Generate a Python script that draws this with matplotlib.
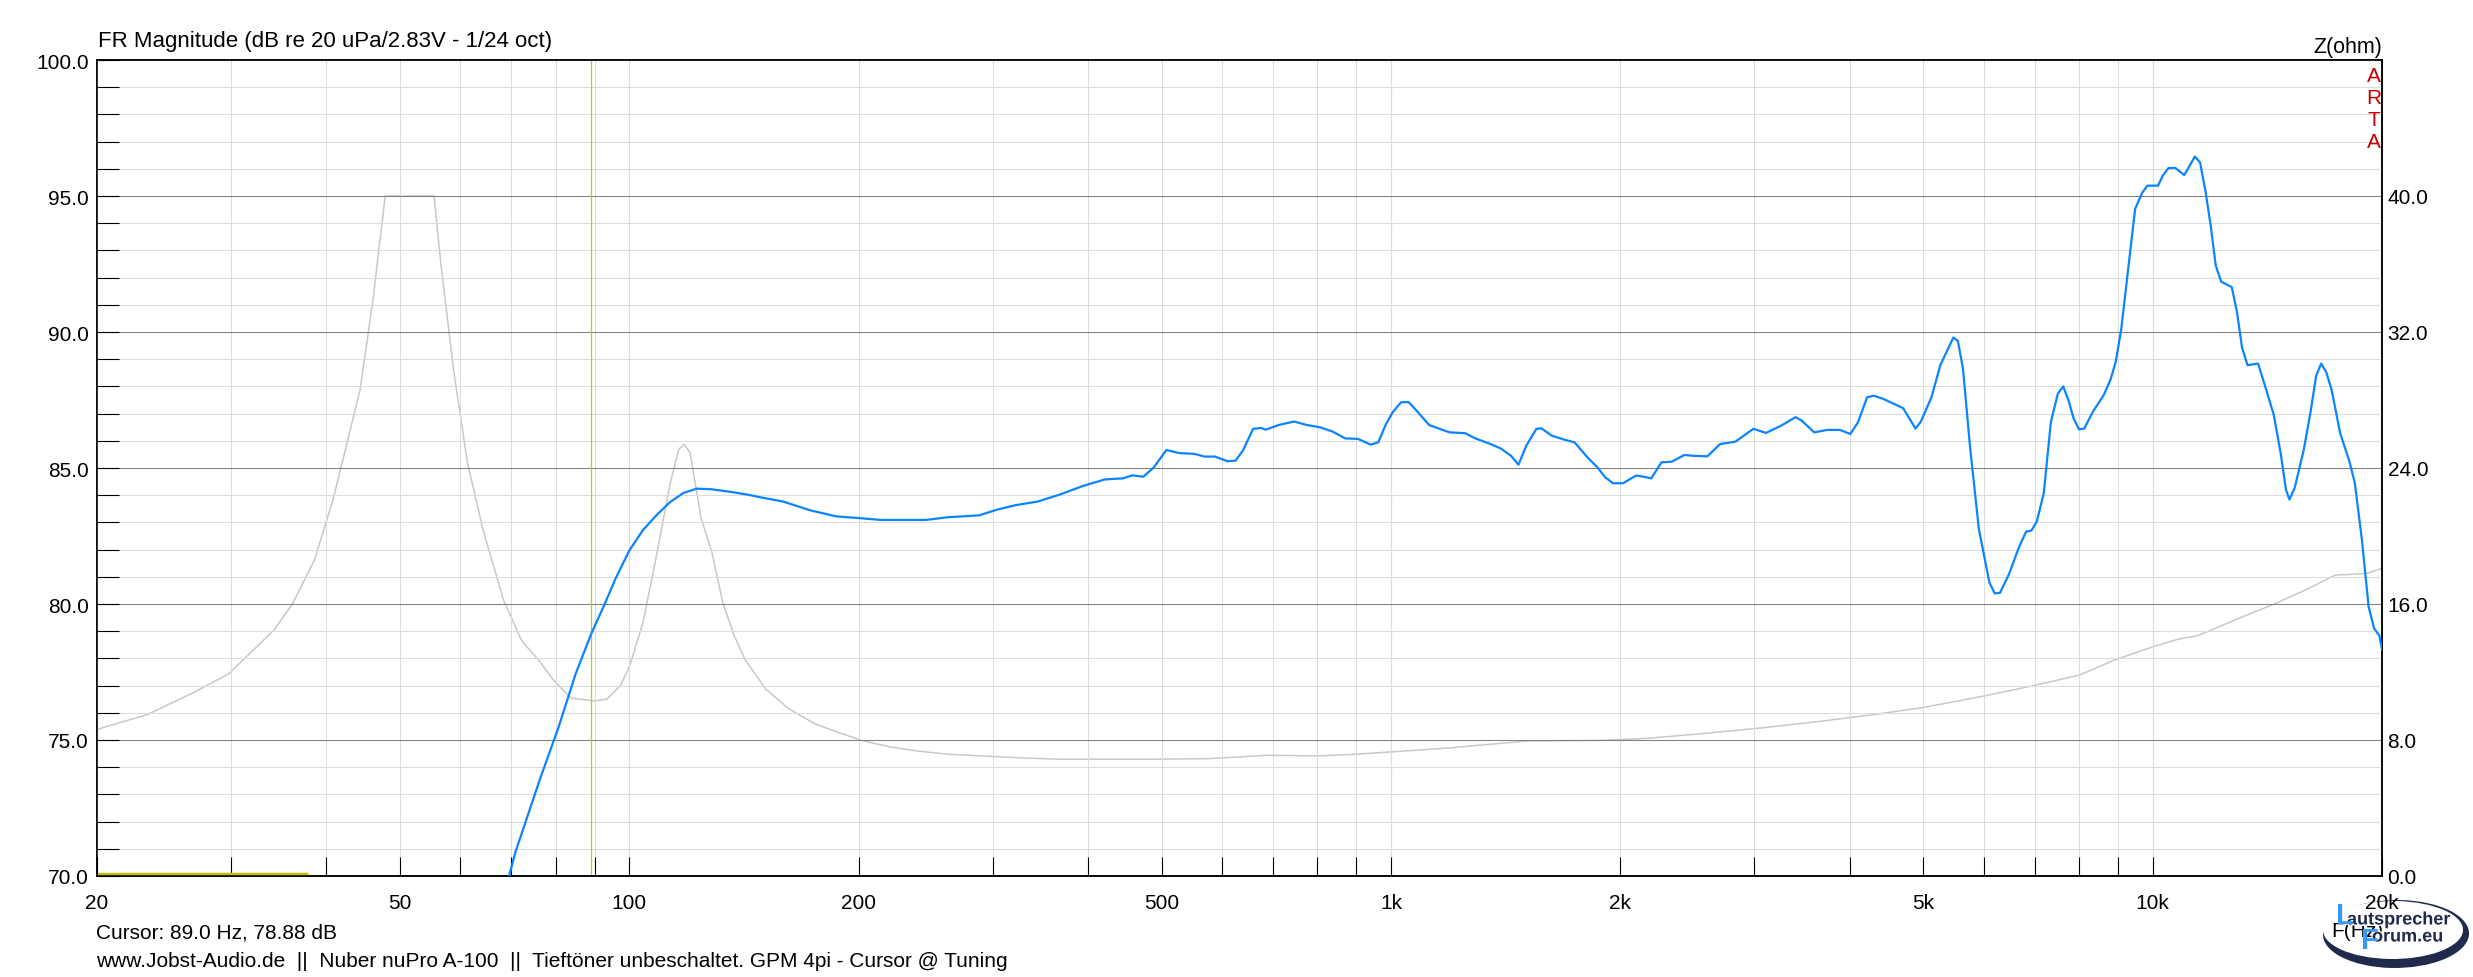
import matplotlib
matplotlib.use("Agg")
import matplotlib.pyplot as plt
from matplotlib.ticker import FixedLocator, NullFormatter
from matplotlib.patches import Ellipse
import matplotlib.patheffects as pe

plt.rcParams['font.family'] = ['Liberation Sans', 'DejaVu Sans']

# frequency response (blue), Hz / dB
fr_f = [69.5, 70.9, 76.4, 80.7, 85.0, 89.1, 92.8, 96.0, 100, 104.2, 108.5, 113, 117.7, 122.6,
        128, 136, 143, 150, 159, 173, 187, 200, 214, 245, 262, 288, 304, 321, 344, 368, 394,
        421, 445, 457, 473, 488, 507, 527, 552, 569, 587, 610, 625, 639, 659, 675, 685, 712,
        746, 775, 806, 838, 870, 905, 940, 962, 985, 1005, 1031, 1055, 1080, 1122, 1158, 1194,
        1251, 1290, 1351, 1393, 1437, 1470, 1505, 1552, 1575, 1625, 1690, 1742, 1811, 1867,
        1910, 1956, 2016, 2097, 2146, 2196, 2265, 2336, 2427, 2485, 2602, 2704, 2833, 2990,
        3107, 3254, 3397, 3461, 3595, 3738, 3885, 4008, 4102, 4218, 4303, 4429, 4588, 4702,
        4882, 4960, 5123, 5262, 5474, 5549, 5635, 5757, 5912, 6102, 6202, 6302, 6470, 6677,
        6820, 6930, 7043, 7194, 7350, 7506, 7630, 7756, 7874, 8003, 8131, 8350, 8620, 8803,
        8943, 9090, 9284, 9483, 9686, 9842, 10160, 10320, 10490, 10710, 11000, 11360, 11540,
        11730, 11920, 12100, 12300, 12700, 12900, 13100, 13320, 13750, 14050, 14420, 14730,
        14960, 15120, 15360, 15780, 16120, 16390, 16640, 16900, 17180, 17620, 18120, 18420,
        18820, 19210, 19530, 19840, 20000]
fr_db = [70.0, 70.9, 73.6, 75.46, 77.43, 78.9, 80.0, 80.96, 81.97, 82.72, 83.26, 83.74, 84.08,
         84.24, 84.22, 84.12, 84.02, 83.9, 83.77, 83.44, 83.22, 83.16, 83.09, 83.09, 83.19,
         83.26, 83.47, 83.63, 83.77, 84.03, 84.34, 84.58, 84.62, 84.73, 84.68, 85.02, 85.66,
         85.55, 85.52, 85.42, 85.42, 85.25, 85.27, 85.64, 86.44, 86.47, 86.41, 86.58, 86.71,
         86.58, 86.5, 86.34, 86.09, 86.07, 85.86, 85.94, 86.62, 87.05, 87.42, 87.42, 87.11,
         86.58, 86.44, 86.31, 86.28, 86.09, 85.88, 85.72, 85.45, 85.12, 85.82, 86.44, 86.46,
         86.19, 86.04, 85.94, 85.39, 85.02, 84.66, 84.44, 84.44, 84.72, 84.68, 84.62, 85.21,
         85.23, 85.48, 85.45, 85.43, 85.88, 85.97, 86.44, 86.29, 86.56, 86.87, 86.74, 86.31,
         86.4, 86.4, 86.25, 86.68, 87.6, 87.66, 87.54, 87.34, 87.2, 86.45, 86.7, 87.6, 88.78,
         89.8, 89.67, 88.65, 85.77, 82.76, 80.8, 80.39, 80.41, 81.07, 82.1, 82.66, 82.7, 83.03,
         84.07, 86.69, 87.73, 88.0, 87.47, 86.82, 86.42, 86.45, 87.08, 87.67, 88.25, 88.91,
         90.08, 92.31, 94.53, 95.12, 95.38, 95.38, 95.77, 96.03, 96.03, 95.77, 96.45, 96.23,
         95.18, 93.88, 92.44, 91.85, 91.65, 90.74, 89.43, 88.78, 88.84, 88.0, 86.95, 85.51,
         84.2, 83.84, 84.27, 85.64, 87.08, 88.39, 88.84, 88.52, 87.86, 86.29, 85.25, 84.46,
         82.37, 79.89, 79.1, 78.84, 78.32]

# impedance (grey), Hz / ohm
imp_f = [20, 20.4, 23.3, 26.8, 29.8, 34.2, 36.1, 38.6, 40.8, 42.5, 44.3, 46.1, 47.8, 55.4, 56.5,
         58.8, 61.3, 64.3, 68.4, 72.2, 76.2, 79.4, 83.8, 89.7, 93.4, 97.3, 100, 104.2, 108.5,
         113, 116.1, 118, 120.1, 124.3, 128.3, 132.6, 137.2, 142, 151, 161.7, 175.1, 187.3,
         203.1, 220.2, 238.9, 262.5, 296.4, 330.2, 367.8, 481.8, 574, 631, 684, 805, 897, 1000,
         1182, 1508, 1890, 2174, 2586, 3078, 3664, 4361, 5010, 5964, 6977, 8017, 8900, 10000,
         10780, 11480, 13040, 14500, 15950, 17360, 18300, 19100, 20000]
imp_ohm = [8.6, 8.74, 9.5, 10.8, 11.9, 14.5, 16.0, 18.6, 22.1, 25.3, 28.6, 34.0, 40.0, 40.0, 36.2,
           29.7, 24.3, 20.3, 16.2, 13.84, 12.64, 11.55, 10.47, 10.3, 10.4, 11.2, 12.3, 14.9, 18.8,
           23.0, 25.1, 25.4, 24.9, 21.0, 19.06, 16.1, 14.16, 12.7, 11.0, 9.85, 8.96, 8.47, 7.94,
           7.59, 7.35, 7.16, 7.04, 6.94, 6.87, 6.87, 6.9, 7.0, 7.1, 7.07, 7.16, 7.3, 7.52, 7.94,
           7.98, 8.1, 8.39, 8.72, 9.1, 9.53, 9.92, 10.56, 11.2, 11.82, 12.7, 13.48, 13.92, 14.15,
           15.2, 16.03, 16.87, 17.7, 17.75, 17.8, 18.1]

x_major = [20, 50, 100, 200, 500, 1000, 2000, 5000, 10000, 20000]
x_major_labels = ['20', '50', '100', '200', '500', '1k', '2k', '5k', '10k', '20k']
x_minor = [30, 40, 60, 70, 80, 90, 300, 400, 600, 700, 800, 900,
           3000, 4000, 6000, 7000, 8000, 9000]
decades = [100, 1000, 10000]
db_major = [70, 75, 80, 85, 90, 95, 100]
ohm_ticks = [0, 8, 16, 24, 32, 40]

cursor_f = 89.0
cursor_bar = (20, 37.8, 70.07)

W, H = 2473, 978
fig = plt.figure(figsize=(W / 100, H / 100), dpi=100)
ax = fig.add_axes([97 / W, 101 / H, (2382 - 97) / W, (877 - 61) / H])
ax2 = ax.twinx()
ax.set_zorder(ax2.get_zorder() + 1)
ax.patch.set_visible(False)

ax.set_xscale('log')
ax.set_xlim(20, 20000)
ax.set_ylim(70, 100)
ax2.set_ylim(0, 48)

ax.xaxis.set_major_locator(FixedLocator(x_major))
ax.set_xticklabels(x_major_labels)
ax.xaxis.set_minor_locator(FixedLocator(x_minor))
ax.xaxis.set_minor_formatter(NullFormatter())
ax.set_yticks(db_major)
ax.set_yticklabels(['%.1f' % v for v in db_major])
ax.set_yticks(range(70, 101), minor=True)

light = '#dcdcdc'
dark = '#808080'
ax.grid(True, which='both', axis='both', color=light, lw=0.75, zorder=0)
ax.grid(True, which='major', axis='y', color=dark, lw=0.75)
for d in decades:
    ax.axvline(d, color=dark, lw=0.75, zorder=0.5)

ax.tick_params(axis='x', which='both', direction='in', length=13.7, width=0.8,
               color='black', labelsize=15, pad=12, top=False)
ax.tick_params(axis='y', which='both', direction='in', length=16, width=0.8,
               color='black', labelsize=15, pad=6, right=False)
ax2.set_yticks(ohm_ticks)
ax2.set_yticklabels(['%.1f' % v for v in ohm_ticks])
ax2.tick_params(axis='y', length=0, labelsize=15, pad=4)

for sp in list(ax.spines.values()) + list(ax2.spines.values()):
    sp.set_color('black')
    sp.set_linewidth(1.1)

ax2.plot(imp_f, imp_ohm, color='#c8c8c8', lw=1.1)
ax.plot(fr_f, fr_db, color='#0a84ff', lw=1.6, zorder=3)
ax.axvline(cursor_f, color='#c8c800', lw=0.9, zorder=2)
ax.hlines(cursor_bar[2], cursor_bar[0], cursor_bar[1], color='#c0c000', lw=2.5, zorder=2)

fig.text(98 / W, 1 - 42 / H, 'FR Magnitude (dB re 20 uPa/2.83V - 1/24 oct)',
         fontsize=16, va='center', ha='left')
fig.text(2382 / W, 1 - 47 / H, 'Z(ohm)', fontsize=15.5, va='center', ha='right')
for i, ch in enumerate('ARTA'):
    fig.text(2374 / W, 1 - (77 + 22 * i) / H, ch, fontsize=15, color='#c80000',
             va='center', ha='center')

fig.text(96 / W, 1 - 933 / H, 'Cursor: 89.0 Hz, 78.88 dB', fontsize=15, va='center')
fig.text(96 / W, 1 - 962 / H,
         'www.Jobst-Audio.de  ||  Nuber nuPro A-100  ||  Tieftöner unbeschaltet. GPM 4pi - Cursor @ Tuning',
         fontsize=15, va='center')

# logo
navy = '#1f2a4d'
fig.patches.append(Ellipse((2396 / W, 1 - 935 / H), 146 / W, 68 / H, angle=-3, zorder=-2,
                           transform=fig.transFigure, facecolor=navy, edgecolor='none'))
fig.patches.append(Ellipse((2393 / W, 1 - 931 / H), 140 / W, 58 / H, angle=-3, zorder=-1,
                           transform=fig.transFigure, facecolor='white', edgecolor='none'))
fig.text(2331 / W, 1 - 932 / H, 'F(Hz)', fontsize=15, va='center', ha='left')
wh = [pe.withStroke(linewidth=2, foreground='white')]
fig.text(2347 / W, 1 - 921 / H, 'autsprecher', fontsize=13, fontweight='bold',
         color=navy, va='center', ha='left', path_effects=wh)
fig.text(2372 / W, 1 - 938 / H, 'orum.eu', fontsize=13, fontweight='bold',
         color=navy, va='center', ha='left', path_effects=wh)
fig.text(2336 / W, 1 - 916 / H, 'L', fontsize=21, fontweight='bold',
         color='#3399ff', va='center', ha='left')
fig.text(2361 / W, 1 - 941 / H, 'F', fontsize=21, fontweight='bold',
         color='#3399ff', va='center', ha='left')

fig.savefig('out.png', dpi=100)
